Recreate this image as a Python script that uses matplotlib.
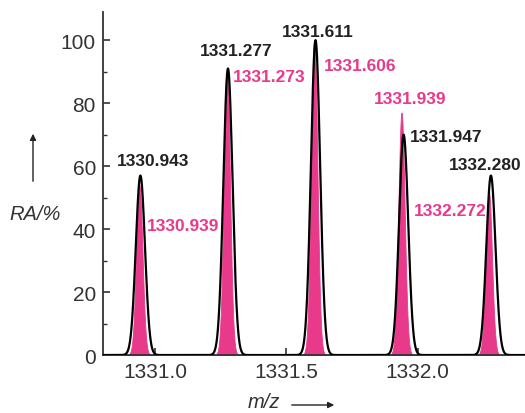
"""Isotope pattern: measured (black outline) vs simulated (pink fill) peaks."""
import numpy as np
import matplotlib
matplotlib.use("Agg")
import matplotlib.pyplot as plt

plt.rcParams["font.family"] = ["Liberation Sans", "DejaVu Sans"]

PINK = "#E8398B"
TEXT_DARK = "#222222"

# measured peaks (apex m/z, relative abundance %)
exp_mz = [1330.943, 1331.277, 1331.611, 1331.947, 1332.280]
exp_ra = [57, 91, 100, 70, 57]
# simulated peaks
sim_mz = [1330.939, 1331.273, 1331.606, 1331.939, 1332.272]
sim_ra = [54, 89, 100, 77, 52]

# label anchor positions (m/z, RA)
exp_lbl_pos = [(1330.993, 61.8), (1331.308, 96.8), (1331.620, 102.9),
               (1332.108, 69.4), (1332.259, 60.5)]
sim_lbl_pos = [(1331.105, 41.1), (1331.434, 88.5), (1331.783, 92.0),
               (1331.971, 81.5), (1332.124, 45.9)]

SIGMA_EXP = 0.0175
SIGMA_SIM = 0.012


def profile(x, centers, heights, sigma):
    y = np.zeros_like(x)
    for c, h in zip(centers, heights):
        y += h * np.exp(-0.5 * ((x - c) / sigma) ** 2)
    return y


fig = plt.figure(figsize=(5.25, 4.14), dpi=100)
ax = fig.add_axes([0.196, 0.140, 0.804, 0.829])

x = np.linspace(1330.80, 1332.41, 4000)
ax.fill_between(x, 0, profile(x, sim_mz, sim_ra, SIGMA_SIM),
                color=PINK, lw=0.6, zorder=2)
ax.plot(x, profile(x, exp_mz, exp_ra, SIGMA_EXP), color="black", lw=1.6, zorder=3)

for (lx, ly), mz in zip(exp_lbl_pos, exp_mz):
    ax.text(lx, ly, f"{mz:.3f}", color=TEXT_DARK, fontsize=12.5, fontweight="bold",
            ha="center", va="center", zorder=4)
for (lx, ly), mz in zip(sim_lbl_pos, sim_mz):
    ax.text(lx, ly, f"{mz:.3f}", color=PINK, fontsize=12.5, fontweight="bold",
            ha="center", va="center", zorder=4)

ax.set_xlim(1330.80, 1332.41)
ax.set_ylim(0, 109)
ax.set_xticks([1331.0, 1331.5, 1332.0])
ax.set_xticklabels(["1331.0", "1331.5", "1332.0"])
ax.set_yticks(range(0, 101, 20))
ax.set_yticks(range(10, 101, 20), minor=True)

for side in ("top", "right"):
    ax.spines[side].set_visible(False)
for side in ("left", "bottom"):
    ax.spines[side].set_linewidth(1.3)
    ax.spines[side].set_color("#333333")

ax.tick_params(axis="both", which="major", direction="in", length=5, width=1.2,
               labelsize=15, labelcolor="#333333", color="#333333", pad=5)
ax.tick_params(axis="y", which="minor", direction="in", length=3, width=1.0,
               color="#333333")

# axis titles with arrows, placed in figure pixels
fig.text(35 / 525, 1 - 215 / 414, "RA/%", fontsize=14.5, style="italic",
         color="#333333", ha="center", va="center")
fig.add_artist(matplotlib.patches.FancyArrowPatch(
    (33 / 525, 1 - 185 / 414), (33 / 525, 1 - 132 / 414),
    transform=fig.transFigure, arrowstyle="-|>", mutation_scale=9,
    lw=1.0, color="#222222"))
fig.text(264 / 525, 1 - 403 / 414, "m/z", fontsize=14.5, style="italic",
         color="#333333", ha="center", va="center")
fig.add_artist(matplotlib.patches.FancyArrowPatch(
    (289 / 525, 1 - 406 / 414), (337 / 525, 1 - 406 / 414),
    transform=fig.transFigure, arrowstyle="-|>", mutation_scale=9,
    lw=1.0, color="#222222"))

fig.savefig("out.png", dpi=100)
